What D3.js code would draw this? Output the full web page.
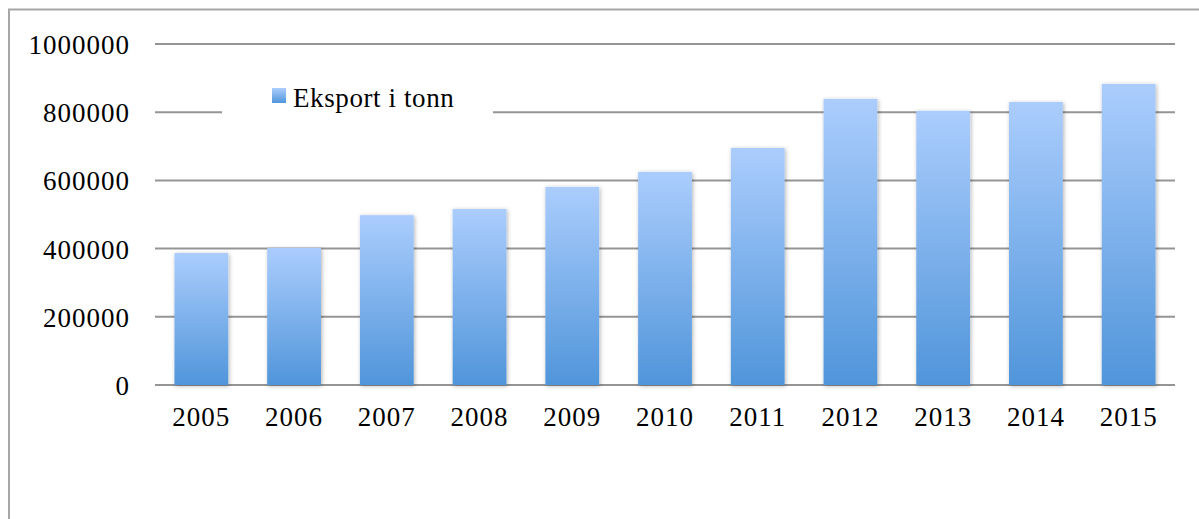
<!DOCTYPE html>
<html>
<head>
<meta charset="utf-8">
<script src="https://cdn.jsdelivr.net/npm/d3@7"></script>
<style>
  body { margin: 0; background: #fff; }
  svg { display: block; }
</style>
</head>
<body>
<div id="chart"></div>
<script>
// data
const years = ["2005", "2006", "2007", "2008", "2009", "2010", "2011", "2012", "2013", "2014", "2015"];
const eksport = [387000, 402000, 498000, 516000, 581000, 625000, 695000, 839000, 804000, 830000, 883000];
const yTicks = [0, 200000, 400000, 600000, 800000, 1000000];
const seriesName = "Eksport i tonn";

const W = 1199, H = 519;
const margin = {top: 44, right: 24, bottom: 134, left: 155};
const width = W - margin.left - margin.right,
      height = H - margin.top - margin.bottom;

const svg = d3.select("#chart").append("svg")
    .attr("width", W)
    .attr("height", H);

const defs = svg.append("defs");
const grad = defs.append("linearGradient")
    .attr("id", "barGrad")
    .attr("x1", 0).attr("y1", 0).attr("x2", 0).attr("y2", 1);
grad.append("stop").attr("offset", "0%").attr("stop-color", "#abcdfd");
grad.append("stop").attr("offset", "100%").attr("stop-color", "#5095da");

const shadow = defs.append("filter").attr("id", "shadow")
    .attr("x", "-20%").attr("y", "-5%").attr("width", "140%").attr("height", "110%");
shadow.append("feDropShadow")
    .attr("dx", 1).attr("dy", 1).attr("stdDeviation", 2)
    .attr("flood-color", "#000").attr("flood-opacity", 0.3);

// chart border (left and top visible, rest cut off)
svg.append("path")
    .attr("d", `M9,${H} L9,9.5 L${W},9.5`)
    .attr("fill", "none")
    .attr("stroke", "#a6a6a6")
    .attr("stroke-width", 2);

const g = svg.append("g")
    .attr("transform", `translate(${margin.left},${margin.top})`);

const x = d3.scaleBand()
    .domain(years)
    .range([0, width])
    .paddingInner(0.42)
    .paddingOuter(0.21);

const y = d3.scaleLinear()
    .domain([0, 1000000])
    .range([height, 0]);

// gridlines
g.selectAll(".grid")
    .data(yTicks)
    .enter().append("line")
    .attr("class", "grid")
    .attr("x1", 0).attr("x2", width)
    .attr("y1", d => y(d)).attr("y2", d => y(d))
    .attr("stroke", "#959595")
    .attr("stroke-width", 2);

// bars
g.selectAll(".bar")
    .data(eksport)
    .enter().append("rect")
    .attr("class", "bar")
    .attr("x", (d, i) => x(years[i]))
    .attr("y", d => y(d))
    .attr("width", x.bandwidth())
    .attr("height", d => height - y(d))
    .attr("fill", "url(#barGrad)")
    .attr("filter", "url(#shadow)");

// y axis labels
const yAxis = g.append("g")
    .call(d3.axisLeft(y).tickValues(yTicks).tickFormat(d3.format("d")).tickSize(0).tickPadding(25));
yAxis.select(".domain").remove();
yAxis.selectAll("text")
    .attr("dy", "0.35em")
    .style("font-family", "'Liberation Serif', serif")
    .style("font-size", "27px")
    .style("letter-spacing", "1px")
    .attr("fill", "#000");

// x axis labels
const xAxis = g.append("g")
    .attr("transform", `translate(0,${height})`)
    .call(d3.axisBottom(x).tickSize(0).tickPadding(22));
xAxis.select(".domain").remove();
xAxis.selectAll("text")
    .attr("dy", "0.71em")
    .style("font-family", "'Liberation Serif', serif")
    .style("font-size", "27px")
    .style("letter-spacing", "1px")
    .attr("fill", "#000");

// legend sits over the 800000 gridline
const legend = svg.append("g");
legend.append("rect")
    .attr("x", 222).attr("y", 80)
    .attr("width", 271).attr("height", 40)
    .attr("fill", "#fff");
legend.append("rect")
    .attr("x", 272).attr("y", 88)
    .attr("width", 14).attr("height", 15)
    .attr("fill", "url(#barGrad)");
legend.append("text")
    .attr("x", 293).attr("y", 107)
    .style("font-family", "'Liberation Serif', serif")
    .style("font-size", "27px")
    .style("letter-spacing", "0.6px")
    .attr("fill", "#000")
    .text(seriesName);
</script>
</body>
</html>
